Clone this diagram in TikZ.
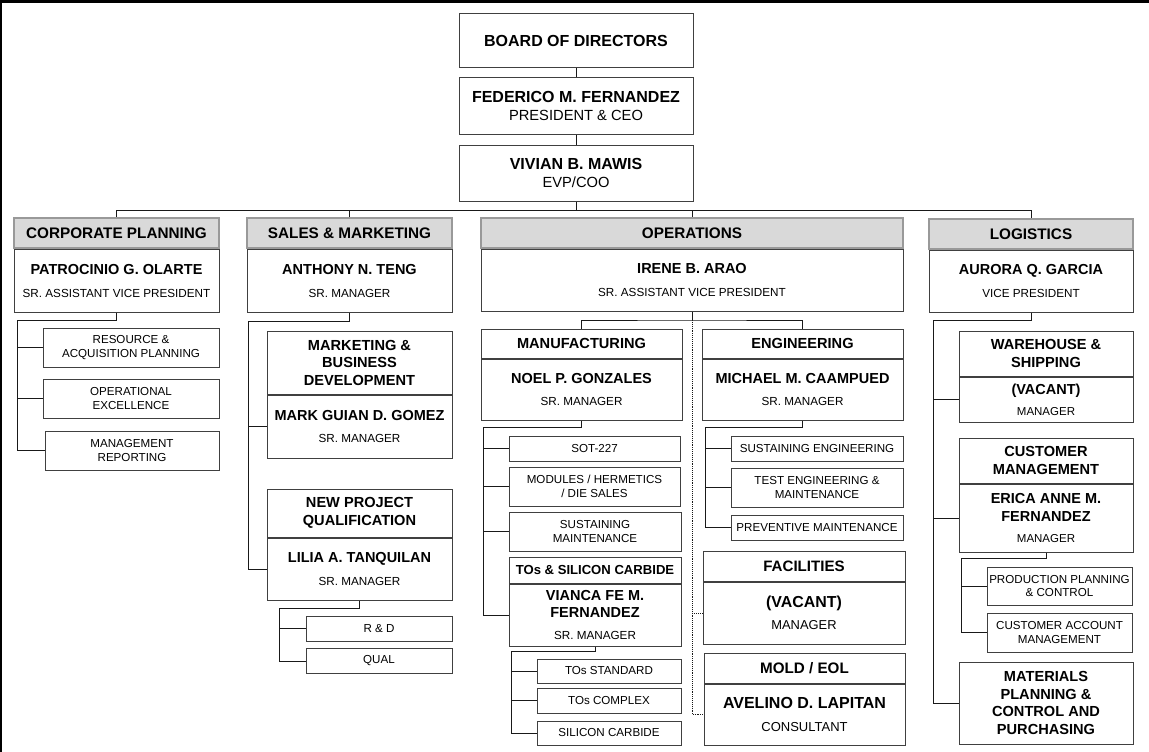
\documentclass[tikz,border=0pt]{standalone}
\usepackage{fontspec}
\setmainfont{Liberation Sans}
\usetikzlibrary{positioning}
\newcommand\nm[1]{{\fontsize{14.5}{17.5}\selectfont\bfseries #1}}
\newcommand\bignm[1]{{\fontsize{16}{18}\selectfont\bfseries #1}}
\tikzset{
  box/.style={draw=black!75, line width=1pt, fill=white, inner sep=0pt, align=center, font=\fontsize{11.7}{17.5}\selectfont},
  topbox/.style={box, minimum width=234, minimum height=56, font=\fontsize{14.7}{18}\selectfont},
  dept/.style={box, draw=black!40, line width=1.3pt, fill=black!15, minimum height=30, font=\fontsize{15.3}{17.5}\selectfont\bfseries},
  unit/.style={box, font=\fontsize{14.6}{17.5}\selectfont\bfseries},
  leaf/.style={box, font=\fontsize{11.6}{13.7}\selectfont},
  link/.style={line width=0.9pt, black!90},
}
\begin{document}
\begin{tikzpicture}[x=1pt,y=-1pt]
\useasboundingbox (0,0) rectangle (1149,752);
\fill (0,0) rectangle (1149,3);
\fill (0,0) rectangle (2,752);

\node[topbox, minimum height=54, font=\fontsize{16}{18}\selectfont\bfseries] (board) at (576,41) {BOARD OF DIRECTORS};
\node[topbox] (ceo) at (576,106) {\bignm{FEDERICO M. FERNANDEZ}\\PRESIDENT \& CEO};
\node[topbox] (coo) at (576,173) {\bignm{VIVIAN B. MAWIS}\\EVP/COO};

\node[dept, minimum width=205] (cph) at (116.5,233) {CORPORATE PLANNING};
\node[box, minimum width=205, minimum height=63, below=0pt of cph] (cpb) {\nm{PATROCINIO G. OLARTE}\\[5.5pt]SR. ASSISTANT VICE PRESIDENT};
\node[dept, minimum width=205] (smh) at (349.5,233) {SALES \& MARKETING};
\node[box, minimum width=205, minimum height=63, below=0pt of smh] (smb) {\nm{ANTHONY N. TENG}\\[5.5pt]SR. MANAGER};
\node[dept, minimum width=422] (oph) at (692,233) {OPERATIONS};
\node[box, minimum width=422, minimum height=62, below=0pt of oph] (opb) {\nm{IRENE B. ARAO}\\[5.5pt]SR. ASSISTANT VICE PRESIDENT};
\node[dept, minimum width=204] (lgh) at (1031,234) {LOGISTICS};
\node[box, minimum width=204, minimum height=62, below=0pt of lgh] (lgb) {\nm{AURORA Q. GARCIA}\\[5.5pt]VICE PRESIDENT};

\node[leaf, minimum width=176, minimum height=39] (rap) at (131,347.5) {RESOURCE \&\\ACQUISITION PLANNING};
\node[leaf, minimum width=176, minimum height=39] (oe) at (131,398.5) {OPERATIONAL\\EXCELLENCE};
\node[leaf, minimum width=174, minimum height=39] (mr) at (132,450.5) {MANAGEMENT\\REPORTING};

\node[unit, minimum width=185, minimum height=63] (mbdh) at (359.5,362.5) {MARKETING \&\\BUSINESS\\DEVELOPMENT};
\node[box, minimum width=185, minimum height=63, below=0pt of mbdh] (mbdb) {\nm{MARK GUIAN D. GOMEZ}\\[4.5pt]SR. MANAGER};
\node[unit, minimum width=185, minimum height=48] (npqh) at (359.5,513) {NEW PROJECT\\QUALIFICATION};
\node[box, minimum width=185, minimum height=62, below=0pt of npqh] (npqb) {\nm{LILIA A. TANQUILAN}\\[5.5pt]SR. MANAGER};
\node[leaf, minimum width=146, minimum height=25] (rnd) at (379,628.5) {R \& D};
\node[leaf, minimum width=146, minimum height=25] (qual) at (379,661) {QUAL};

\node[unit, minimum width=201, minimum height=29] (mfgh) at (581.5,343.5) {MANUFACTURING};
\node[box, minimum width=201, minimum height=61, below=0pt of mfgh] (mfgb) {\nm{NOEL P. GONZALES}\\[4pt]SR. MANAGER};
\node[unit, minimum width=201, minimum height=29] (engh) at (802.5,343.5) {ENGINEERING};
\node[box, minimum width=201, minimum height=61, below=0pt of engh] (engb) {\nm{MICHAEL M. CAAMPUED}\\[4pt]SR. MANAGER};

\node[leaf, minimum width=171, minimum height=25] (sot) at (594.5,448.5) {SOT-227};
\node[leaf, minimum width=171, minimum height=39] (mhd) at (594.5,486.5) {MODULES / HERMETICS\\/ DIE SALES};
\node[leaf, minimum width=172, minimum height=39] (smt) at (595,531.5) {SUSTAINING\\MAINTENANCE};
\node[unit, minimum width=172, minimum height=26, font=\fontsize{13.1}{15}\selectfont\bfseries] (tosh) at (595,570) {TOs \& SILICON CARBIDE};
\node[box, minimum width=172, minimum height=62, below=0pt of tosh] (tosb) {\nm{VIANCA FE M.}\\\nm{FERNANDEZ}\\[4.5pt]SR. MANAGER};
\node[leaf, minimum width=144, minimum height=24] (tstd) at (609,671) {TOs STANDARD};
\node[leaf, minimum width=144, minimum height=25] (tcx) at (609,700.5) {TOs COMPLEX};
\node[leaf, minimum width=144, minimum height=24] (sic) at (609,733) {SILICON CARBIDE};

\node[leaf, minimum width=172, minimum height=25] (se) at (817,448.5) {SUSTAINING ENGINEERING};
\node[leaf, minimum width=172, minimum height=39] (tem) at (817,487.5) {TEST ENGINEERING \&\\MAINTENANCE};
\node[leaf, minimum width=172, minimum height=25] (pm) at (817,527.5) {PREVENTIVE MAINTENANCE};

\node[unit, minimum width=202, minimum height=30, font=\fontsize{15.1}{17.5}\selectfont\bfseries] (fach) at (804,566) {FACILITIES};
\node[box, minimum width=202, minimum height=62, below=0pt of fach, font=\fontsize{12.9}{17.5}\selectfont] (facb) {{\fontsize{15.9}{17.5}\selectfont\bfseries (VACANT)}\\[4.7pt]MANAGER};
\node[unit, minimum width=201, minimum height=30, font=\fontsize{15.2}{17.5}\selectfont\bfseries] (moldh) at (804.5,668) {MOLD / EOL};
\node[box, minimum width=201, minimum height=61, below=0pt of moldh, font=\fontsize{13}{17.5}\selectfont] (moldb) {\bignm{AVELINO D. LAPITAN}\\[5.9pt]CONSULTANT};

\node[unit, minimum width=174, minimum height=45] (whh) at (1046,353.5) {WAREHOUSE \&\\SHIPPING};
\node[box, minimum width=174, minimum height=45, below=0pt of whh, font=\fontsize{11.5}{17.5}\selectfont] (whb) {\nm{(VACANT)}\\[3.5pt]MANAGER};
\node[unit, minimum width=174, minimum height=45] (cmh) at (1046,460.5) {CUSTOMER\\MANAGEMENT};
\node[box, minimum width=174, minimum height=68, below=0pt of cmh, font=\fontsize{11.5}{17.5}\selectfont] (cmb) {\nm{ERICA ANNE M.}\\\nm{FERNANDEZ}\\[4pt]MANAGER};
\node[leaf, minimum width=145, minimum height=38] (ppc) at (1059.5,586) {PRODUCTION PLANNING\\\& CONTROL};
\node[leaf, minimum width=145, minimum height=39] (cam) at (1059.5,632.5) {CUSTOMER ACCOUNT\\MANAGEMENT};
\node[unit, minimum width=174, minimum height=82] (mat) at (1046,703) {MATERIALS\\PLANNING \&\\CONTROL AND\\PURCHASING};

\draw[link] (board) -- (ceo);
\draw[link] (ceo) -- (coo);
\coordinate (top) at (576,210);
\draw[link] (coo) -- (top);
\foreach \n in {cph,smh,oph,lgh}
  \draw[link] (top) -| (\n.north);

\coordinate (cpbus) at (17,320);
\draw[link] (cpb.south) |- (cpbus) |- (mr.west);
\foreach \n in {rap,oe}
  \draw[link] (\n.west) -- (\n.west -| cpbus);

\coordinate (smbus) at (248,321);
\draw[link] (smb.south) |- (smbus) |- (npqb.west);
\draw[link] (mbdb.west) -- (mbdb.west -| smbus);
\coordinate (npqbus) at (279,608);
\draw[link] (npqb.south) |- (npqbus) |- (qual.west);
\draw[link] (rnd.west) -- (rnd.west -| npqbus);

\coordinate (opbus) at (692,320);
\draw[link] (opb.south) -- (opbus);
\draw[link] (mfgh.north) |- (opbus) -| (engh.north);
\draw[link, densely dotted, line width=0.7pt] (opbus) |- (moldb.west);
\draw[link, densely dotted, line width=0.7pt] (facb.west) -- (facb.west -| opbus);

\coordinate (mfgbus) at (483,427);
\draw[link] (mfgb.south) |- (mfgbus) |- (tosb.west);
\foreach \n in {sot,mhd,smt}
  \draw[link] (\n.west) -- (\n.west -| mfgbus);
\coordinate (tosbus) at (511,651);
\draw[link] (tosb.south) |- (tosbus) |- (sic.west);
\foreach \n in {tstd,tcx}
  \draw[link] (\n.west) -- (\n.west -| tosbus);

\coordinate (engbus) at (705,427);
\draw[link] (engb.south) |- (engbus) |- (pm.west);
\foreach \n in {se,tem}
  \draw[link] (\n.west) -- (\n.west -| engbus);

\coordinate (lgbus) at (933,320);
\draw[link] (lgb.south) |- (lgbus) |- (mat.west);
\foreach \n in {whb,cmb}
  \draw[link] (\n.west) -- (\n.west -| lgbus);
\coordinate (cmbus) at (961,558);
\draw[link] (cmb.south) |- (cmbus) |- (cam.west);
\draw[link] (ppc.west) -- (ppc.west -| cmbus);
\end{tikzpicture}
\end{document}
